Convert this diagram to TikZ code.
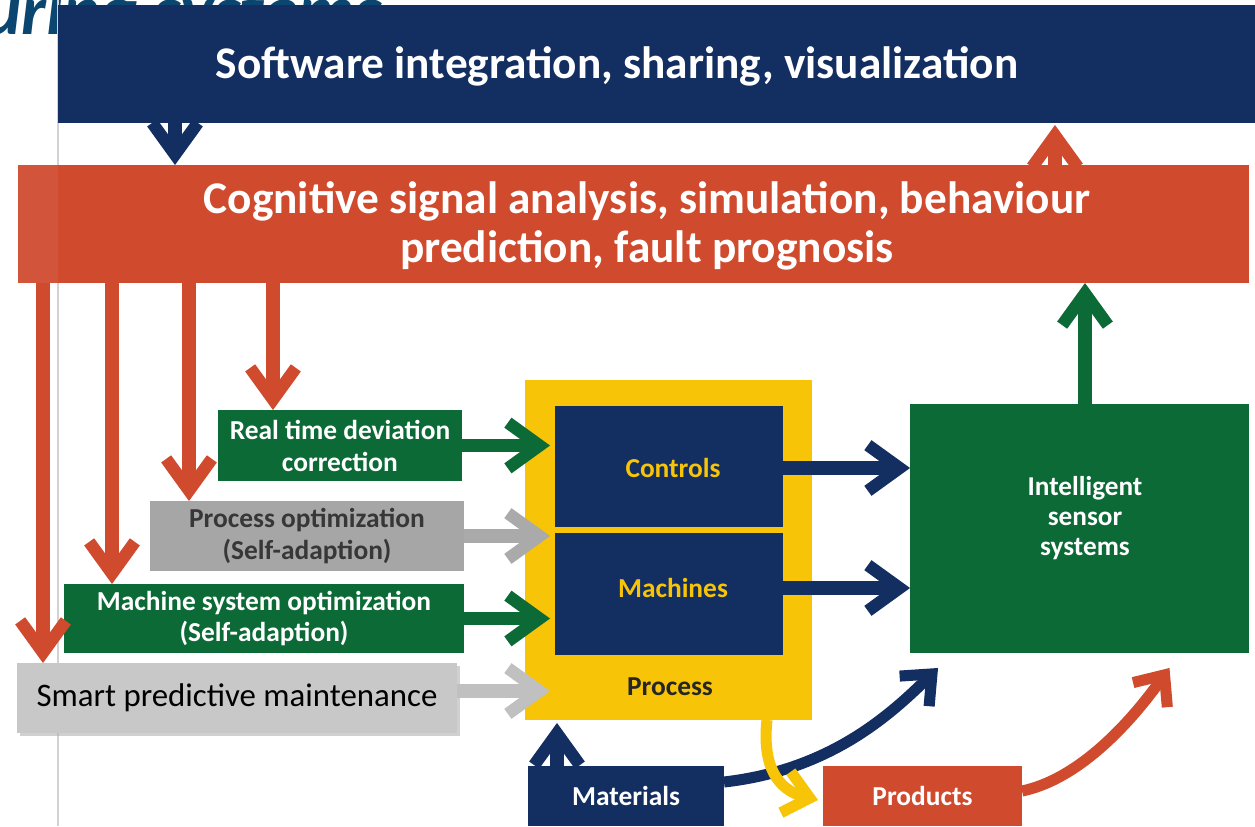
\documentclass[tikz,border=0pt]{standalone}
\usepackage{fontspec}
\setmainfont{Carlito}
\usetikzlibrary{arrows.meta,shadows}
\definecolor{navy}{RGB}{19,46,96}
\definecolor{orng}{RGB}{208,74,46}
\definecolor{grn}{RGB}{12,106,54}
\definecolor{yel}{RGB}{247,196,8}
\definecolor{gbox}{RGB}{166,166,166}
\definecolor{lgbox}{RGB}{200,200,200}
\definecolor{garrow}{RGB}{170,170,170}
\definecolor{lgarrow}{RGB}{192,192,192}
\definecolor{titleblue}{RGB}{10,70,112}
\definecolor{dtext}{RGB}{55,55,55}
\tikzset{
  box/.style={rectangle, inner sep=0pt, outer sep=0pt},
  bigtxt/.style={text=white, font=\fontsize{25.8}{27.8}\selectfont\bfseries, align=center, inner sep=0pt},
  medtxt/.style={font=\fontsize{15.6}{18.2}\selectfont\bfseries, align=center, inner sep=0pt},
  fat/.style={line width=7.5pt, -{Straight Barb[length=18pt,width=26pt,line width=7pt]}},
  thin/.style={line width=6.3pt, -{Straight Barb[length=14pt,width=24pt,line width=6.3pt]}},
}
\begin{document}
\begin{tikzpicture}[x=0.02cm,y=-0.02cm]
\useasboundingbox (0,0) rectangle (1255,826);
\clip (0,0) rectangle (1255,826);
\fill[white] (0,0) rectangle (1255,826);
% partly hidden title
\node[anchor=base west, inner sep=0pt, text=titleblue, font=\fontsize{40}{40}\selectfont\bfseries\itshape] (title) at (-16,34) {uring systems};
% slide edge line
\draw[gray!35, line width=0.6pt] (58,0) -- (58,826);
% columns
\coordinate (xa) at (175,0);
\coordinate (xb) at (1055,0);
\coordinate (xc) at (43,0);
\coordinate (xd) at (112,0);
\coordinate (xe) at (189,0);
\coordinate (xf) at (273,0);
\coordinate (xg) at (1085,0);
\coordinate (xh) at (557,0);
\coordinate (xi) at (767,0);
% boxes
\node[box, fill=navy, minimum width=23.94cm, minimum height=2.36cm] (soft) at (656.5,64) {};
\node[bigtxt] (softtxt) at (617,66) {Software integration, sharing, visualization};
\node[box, fill=orng, minimum width=24.62cm, minimum height=2.36cm] (cog) at (633.5,224) {};
\fill[white, opacity=0.06] (18,165) rectangle (58,283);
\node[bigtxt] (cogtxt) at (647,226) {Cognitive signal analysis, simulation, behaviour\\prediction, fault prognosis};
\node[box, fill=grn, minimum width=4.88cm, minimum height=1.42cm, medtxt, text=white] (rt) at (340,445.5) {Real time deviation\\correction};
\node[box, fill=gbox, minimum width=6.28cm, minimum height=1.4cm, medtxt, text=dtext] (po) at (307,536) {Process optimization\\(Self-adaption)};
\node[box, fill=grn, minimum width=8cm, minimum height=1.38cm, medtxt, text=white] (ms) at (264,618.5) {Machine system optimization\\(Self-adaption)};
\node[box, fill=lgbox, minimum width=8.8cm, minimum height=1.4cm, text=black, font=\fontsize{18.7}{22}\selectfont, drop shadow={shadow xshift=1.5pt, shadow yshift=-1.5pt, fill=gray!60, opacity=0.6}] (spm) at (237,698) {Smart predictive maintenance};
\node[box, fill=yel, minimum width=5.74cm, minimum height=6.8cm] (proc) at (668.5,550) {};
\node[medtxt, text=black!85] (proctxt) at (670,687) {Process};
\node[box, fill=navy, minimum width=4.56cm, minimum height=2.42cm] (ctrl) at (669,466.5) {};
\node[medtxt, text=yel] (ctrltxt) at (673,468) {Controls};
\node[box, fill=navy, minimum width=4.56cm, minimum height=2.44cm] (mach) at (669,594) {};
\node[medtxt, text=yel] (machtxt) at (673,588) {Machines};
\node[box, fill=grn, minimum width=6.78cm, minimum height=4.98cm] (iss) at (1079.5,528.5) {};
\node[text=white, font=\fontsize{15.5}{17}\selectfont\bfseries, align=center, inner sep=0pt] (isstxt) at (1085,518) {Intelligent\\sensor\\systems};
\node[box, fill=navy, minimum width=3.92cm, minimum height=1.2cm, medtxt, text=white] (mat) at (626,796) {Materials};
\node[box, fill=orng, minimum width=3.98cm, minimum height=1.2cm, medtxt, text=white] (prod) at (922.5,796) {Products};
% arrows between bars
\draw[fat, navy] (soft.south -| xa) -- (cog.north -| xa);
\draw[fat, orng] (cog.north -| xb) -- ([yshift=-0.04cm]soft.south -| xb);
\draw[fat, grn] (iss.north -| xg) -- (cog.south -| xg);
% orange drops
\draw[fat, orng] (cog.south -| xc) -- (spm.north -| xc);
\draw[fat, orng] (cog.south -| xd) -- (ms.north -| xd);
\draw[fat, orng] (cog.south -| xe) -- (po.north -| xe);
\draw[fat, orng] (cog.south -| xf) -- (rt.north -| xf);
% inputs to process
\draw[fat, grn] (rt.east) -- ([xshift=-0.1cm]rt.east -| ctrl.west);
\draw[fat, garrow] (po.east) -- ([xshift=-0.1cm]po.east -| ctrl.west);
\draw[fat, grn] (ms.east) -- ([xshift=-0.1cm]ms.east -| mach.west);
\draw[fat, lgarrow] ([yshift=0.14cm]spm.east) -- ([xshift=-0.1cm,yshift=0.14cm]spm.east -| mach.west);
% outputs to sensors
\draw[fat, navy] ([yshift=-0.03cm]ctrl.east) -- ([yshift=-0.03cm]ctrl.east -| iss.west);
\draw[fat, navy] ([yshift=0.12cm]mach.east) -- ([yshift=0.12cm]mach.east -| iss.west);
% materials
\draw[fat, navy] (mat.north -| xh) -- ([yshift=-0.06cm]proc.south -| xh);
\draw[thin, navy] ([yshift=0.28cm]mat.east) .. controls (830,770) and (890,715) .. ([xshift=0.56cm,yshift=-0.3cm]iss.south west);
% process to products
\draw[thin, yel] (proc.south -| xi) .. controls (762,765) and (777,790) .. ([xshift=-0.1cm,yshift=-0.08cm]prod.west);
% products to sensors
\draw[thin, orng] ([yshift=0.1cm]prod.east) .. controls (1075,780) and (1125,730) .. ([xshift=1.8cm,yshift=-0.3cm]iss.south);
\end{tikzpicture}
\end{document}
